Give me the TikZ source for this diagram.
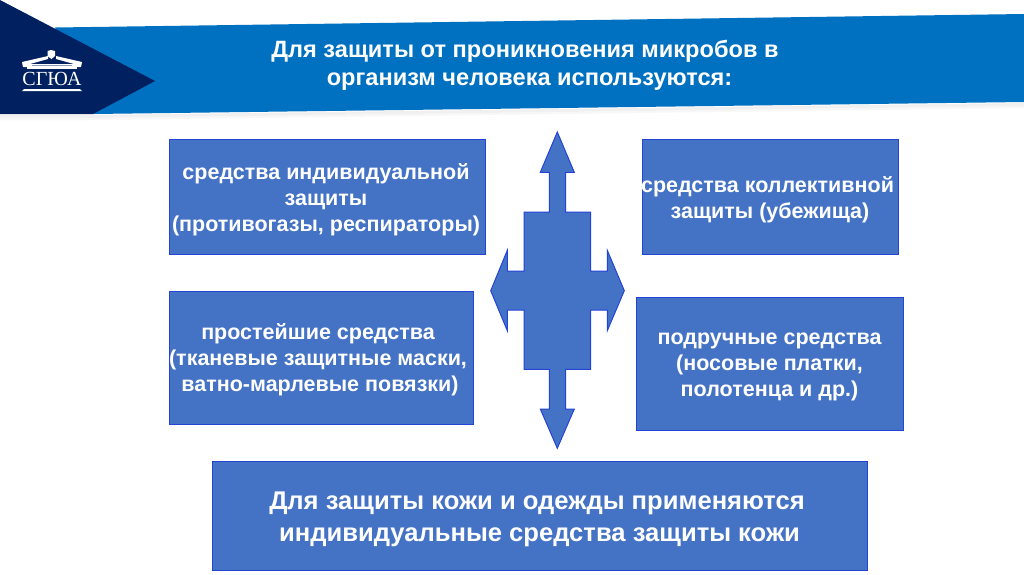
\documentclass[tikz,border=0pt]{standalone}
\usepackage{fontspec}
\setmainfont{Liberation Sans}
\newfontfamily\logofont{Liberation Serif}
\definecolor{banner}{HTML}{0070C0}
\definecolor{navy}{HTML}{002060}
\definecolor{boxfill}{HTML}{4472C4}
\definecolor{boxline}{HTML}{2444D8}
\definecolor{txt}{HTML}{FFFFFF}
\tikzset{
  box/.style={draw=boxline,fill=boxfill,line width=1pt},
  lbl/.style={text=txt,align=center,inner sep=0pt,font=\fontsize{21.5}{26}\selectfont\bfseries},
  ttl/.style={text=txt,align=center,inner sep=0pt,font=\fontsize{23.6}{30}\selectfont\bfseries},
  big/.style={text=txt,align=center,inner sep=0pt,font=\fontsize{25.6}{32}\selectfont\bfseries},
}
\begin{document}
\begin{tikzpicture}[x=1pt,y=-1pt]
\useasboundingbox (0,0) rectangle (1024,574);
\fill[white] (0,0) rectangle (1024,574);
% shadow
\fill[black!6] (0,115) -- (93,115) -- (1024,103) -- (1024,106) -- (93,118) -- (0,118) -- cycle;
\fill[black!3] (0,118) -- (93,118) -- (1024,106) -- (1024,108) -- (93,120) -- (0,120) -- cycle;
% banner
\fill[banner] (55,27.5) -- (1024,14) -- (1024,102) -- (93,114) -- cycle;
\fill[navy] (0,0) -- (155,81) -- (93,114) -- (0,114) -- cycle;
% logo
\fill[white] (24,89) -- (80,89) -- (82,91) -- (22,91) -- cycle;
\node[text=white,inner sep=0pt,font=\logofont\fontsize{20}{20}\selectfont] (logo) at (52,79) {СГЮА};
\fill[white] (22,62) -- (48,56) -- (48,59) -- (30,64) -- (74,64) -- (56,59) -- (56,56) -- (82,62) -- (81,67) -- (23,67) -- cycle;
\fill[white] (47.5,51) -- (51,50) -- (55,51) -- (55,56) -- (51.5,59) -- (47.5,56) -- cycle;
\fill[white!55!navy] (32,64.5) -- (72,64.5) -- (72,66) -- (32,66) -- cycle;
\fill[white] (27,67) rectangle (77,68.5);
% title
\node[ttl] (title1) at (525,51.5) {Для защиты от проникновения микробов в};
\node[ttl] (title2) at (529.5,82) {организм человека используются:};
% boxes
\path[box] (169,139) rectangle (485,254);
\node[lbl] (a) at (326,199.5) {средства индивидуальной\\защиты\\(противогазы, респираторы)};
\path[box] (642,139) rectangle (898,254);
\node[lbl] (b) at (767.5,200) {средства коллективной\\\hspace*{5pt}защиты (убежища)};
\path[box] (169,291) rectangle (473,424);
\node[lbl] (c) at (318,360) {простейшие средства\\(тканевые защитные маски,\\\hspace*{4pt}ватно-марлевые повязки)};
\path[box] (636,297) rectangle (903,430);
\node[lbl] (d) at (769.5,366.5) {подручные средства\\(носовые платки,\\полотенца и др.)};
\path[box] (212,461) rectangle (867,570);
\node[big] (e) at (537,519) {Для защиты кожи и одежды применяются\\\hspace*{5pt}индивидуальные средства защиты кожи};
% cross arrow
\draw[box,line join=miter]
 (557.3,132) -- (574.3,172.3) -- (565.7,172.3) -- (565.7,212) -- (590.7,212) -- (590.7,271)
 -- (607.3,271) -- (607.3,250.3) -- (624.3,290.7) -- (607.3,330.7) -- (607.3,310) -- (590.7,310)
 -- (590.7,369.3) -- (565.7,369.3) -- (565.7,409) -- (574.3,409) -- (557.3,448.3) -- (540.3,409)
 -- (549.3,409) -- (549.3,369.3) -- (524,369.3) -- (524,310) -- (507.3,310) -- (507.3,330.7)
 -- (490.7,290.7) -- (507.3,250.3) -- (507.3,271) -- (524,271) -- (524,212) -- (549.3,212)
 -- (549.3,172.3) -- (540.3,172.3) -- cycle;
\end{tikzpicture}
\end{document}
